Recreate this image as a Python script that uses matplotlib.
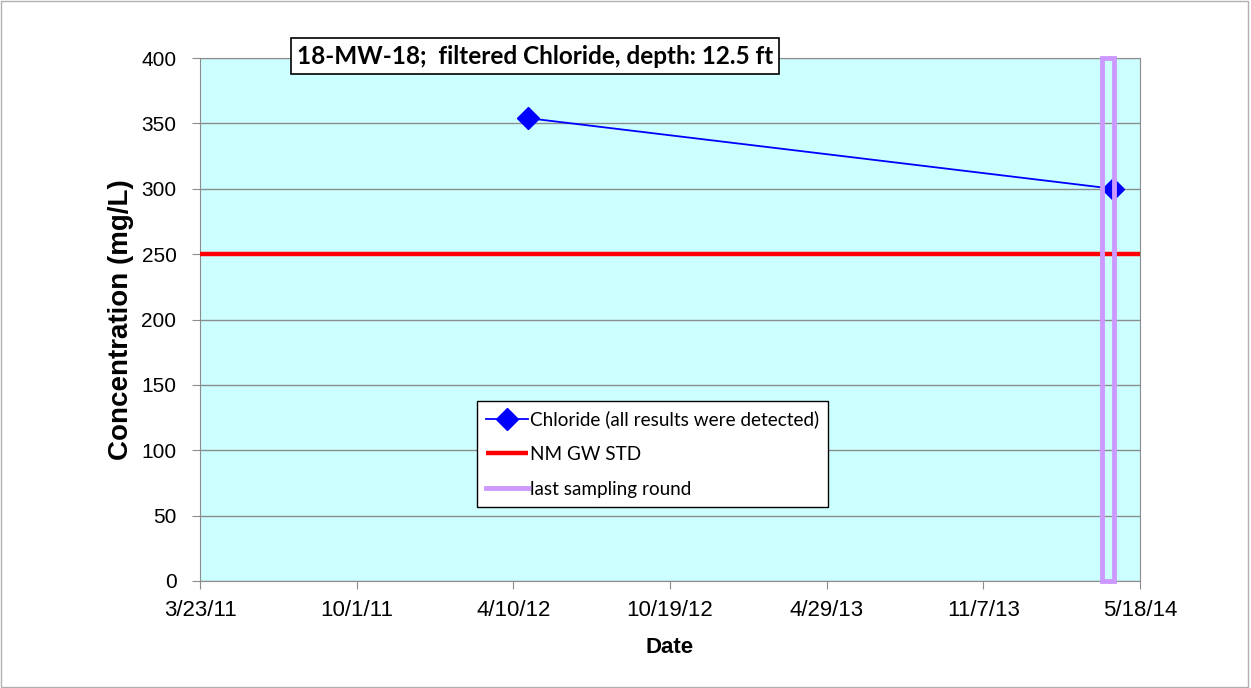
import datetime as dt

import matplotlib
matplotlib.use('Agg')
import matplotlib.pyplot as plt
import matplotlib.dates as mdates
from matplotlib.patches import Rectangle

# data
sample_dates = [dt.date(2012, 4, 28), dt.date(2014, 4, 15)]
chloride = [354, 300]
gw_std = 250
last_round_start = dt.date(2014, 4, 1)
last_round_end = dt.date(2014, 4, 16)
x_start = dt.date(2011, 3, 23)
x_end = dt.date(2014, 5, 18)
tick_step_days = 192
y_ticks = list(range(0, 401, 50))

title_text = '18-MW-18;  filtered Chloride, depth: 12.5 ft'

plt.rcParams['font.family'] = ['Liberation Sans', 'DejaVu Sans']

fig = plt.figure(figsize=(12.51, 6.88), dpi=100)
fig.patches.append(Rectangle((0.001, 0.002), 0.997, 0.996, transform=fig.transFigure,
                             fill=False, edgecolor='#b0b0b0', linewidth=1))
ax = fig.add_axes([200 / 1251, 107 / 688, 940 / 1251, 523 / 688])
ax.set_facecolor('#CCFFFF')

x_ticks = [x_start + dt.timedelta(days=tick_step_days * i) for i in range(7)]


def date_label(v, pos):
    d = mdates.num2date(v)
    return f'{d.month}/{d.day}/{d.strftime("%y")}'


ax.set_xlim(x_start, x_end)
ax.set_ylim(0, 400)
ax.set_yticks(y_ticks)
ax.set_xticks(x_ticks)
ax.xaxis.set_major_formatter(matplotlib.ticker.FuncFormatter(date_label))
ax.yaxis.grid(True, color='#8c8c8c', linewidth=1)
ax.set_axisbelow(True)
for sp in ax.spines.values():
    sp.set_color('#8c8c8c')
ax.tick_params(axis='both', direction='out', length=6, color='#8c8c8c')
ax.tick_params(axis='y', labelsize=15, pad=11)
ax.tick_params(axis='x', labelsize=16, pad=8)

ax.plot([x_start, x_end], [gw_std, gw_std], color='#FF0000', linewidth=3.2,
        solid_capstyle='butt', label='NM GW STD', zorder=3)
ax.plot(sample_dates, chloride, color='#0000FF', linewidth=1.3, marker='D',
        markersize=11.5, label='Chloride (all results were detected)', zorder=4)

x0 = mdates.date2num(last_round_start)
x1 = mdates.date2num(last_round_end)
ax.add_patch(Rectangle((x0, 0), x1 - x0, 400, fill=False, edgecolor='#CC99FF',
                       linewidth=3.5, zorder=5, clip_on=False))
ax.plot([], [], color='#CC99FF', linewidth=3.5, label='last sampling round')

handles, labels = ax.get_legend_handles_labels()
order = [1, 0, 2]
leg = ax.legend([handles[i] for i in order], [labels[i] for i in order],
                loc='upper left', bbox_to_anchor=(277 / 940, (581 - 401) / 523),
                frameon=True, fancybox=False, edgecolor='black', facecolor='white',
                framealpha=1, prop={'family': ['Lato', 'DejaVu Sans'], 'size': 13.6},
                handlelength=2.2, handletextpad=0.1, labelspacing=0.94,
                borderpad=0.5, borderaxespad=0)
leg.get_frame().set_linewidth(1)

ax.set_xlabel('Date', fontsize=16, fontweight='bold', labelpad=11)
ax.set_ylabel('Concentration (mg/L)', fontsize=20, fontweight='bold', labelpad=5)

fig.text(535 / 1251, 1 - 56 / 688, title_text, ha='center', va='center',
         fontsize=17.5, fontweight='bold', family=['Lato', 'DejaVu Sans'],
         bbox=dict(boxstyle='square,pad=0.25', facecolor='white', edgecolor='black', linewidth=1.2))

fig.savefig('out.png', dpi=100)
